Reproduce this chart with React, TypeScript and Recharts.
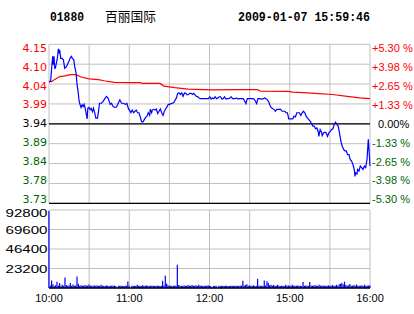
import { ComposedChart, BarChart, Line, Bar, XAxis, YAxis, CartesianGrid, ReferenceLine } from "recharts";

// previous close, the centre of the price scale
const prevClose = 3.94;

const priceTicks = [4.1488, 4.0966, 4.0444, 3.9922, 3.94, 3.8878, 3.8356, 3.7834, 3.7312];
const pctLabels = ["+5.30 %", "+3.98 %", "+2.65 %", "+1.33 %", "0.00%", "-1.33 %", "-2.65 %", "-3.98 %", "-5.30 %"];

// minutes since 10:00 (lunch break removed)
const timeTicks = [0, 30, 60, 90, 120, 150, 180, 210, 240];
const timeLabels: Record<number, string> = { 0: "10:00", 60: "11:00", 120: "12:00", 180: "15:00", 240: "16:00" };

const volTicks = [0, 23200, 46400, 69600, 92800];

// [minute, price]
const priceLine: [number, number][] = [
  [0, 4.05], [1.25, 4.053], [2, 4.086], [2.75, 4.117], [3.25, 4.095], [3.75, 4.117], [4.25, 4.086], [4.75, 4.086],
  [6.25, 4.112], [7, 4.137], [7.5, 4.125], [8, 4.134], [8.75, 4.112], [9.75, 4.112], [10.75, 4.108], [11.75, 4.086],
  [13, 4.09], [13.75, 4.096], [15, 4.105], [16, 4.114], [16.75, 4.117], [17.5, 4.112], [18.5, 4.108], [19.25, 4.09],
  [20.25, 4.073], [21, 4.042], [21.75, 4.025], [22.5, 4.0], [23.25, 3.99], [24, 3.983], [24.75, 3.99], [25.5, 3.985],
  [26.25, 3.991], [27, 3.981], [27.75, 3.968], [28.5, 3.953], [29, 3.981], [29.75, 3.983], [30.75, 3.977], [31.5, 3.981],
  [32.5, 3.972], [33.25, 3.981], [34.25, 3.968], [35, 3.955], [36.25, 3.955], [37, 3.972], [37.75, 3.994], [39.25, 3.994],
  [40.5, 3.999], [41.75, 4.006], [43, 4.012], [44.25, 4.007], [45, 3.999], [45.75, 3.991], [46.75, 3.994], [48, 3.985],
  [49.25, 3.983], [50.5, 3.984], [51.75, 3.994], [53, 4.003], [54.25, 3.994], [55.5, 3.994], [57.25, 3.991], [58.25, 3.994],
  [59.25, 3.981], [60.5, 3.974], [61.25, 3.969], [62.25, 3.976], [63.25, 3.969], [64.25, 3.973], [65.25, 3.976], [66.25, 3.969],
  [67.25, 3.969], [68.25, 3.958], [69.25, 3.945], [70.25, 3.945], [71.25, 3.951], [72.25, 3.957], [73.25, 3.96], [74.25, 3.969],
  [75.25, 3.962], [75.75, 3.978], [76.75, 3.969], [77.25, 3.976], [78.25, 3.978], [79.25, 3.976], [80.25, 3.979], [81.25, 3.967],
  [82.25, 3.973], [83.25, 3.979], [84.25, 3.969], [85.25, 3.962], [86.25, 3.973], [87.25, 3.979], [88.25, 3.985], [89.25, 3.991],
  [90.25, 3.991], [91.25, 3.993], [93.25, 3.995], [94.25, 4.002], [95.25, 4.008], [96.25, 4.02], [97.25, 4.021], [98.25, 4.017],
  [99.25, 4.021], [100.25, 4.012], [101.25, 4.021], [102.25, 4.02], [103.25, 4.016], [104.25, 4.017], [105.25, 4.02], [106.25, 4.02],
  [107.25, 4.017], [108.25, 4.02], [109.25, 4.016], [110.25, 4.012], [111.25, 4.011], [112.25, 4.008], [113.25, 4.006], [115, 4.006],
  [117.25, 4.006], [119.25, 4.006], [120.25, 4.011], [121.25, 4.005], [122.25, 4.008], [123.25, 4.006], [124.25, 4.011], [125.25, 4.006],
  [126.25, 4.008], [127.25, 4.011], [128.25, 4.011], [129.25, 4.005], [130.25, 4.006], [131.25, 4.011], [132.25, 4.005], [133.25, 4.006],
  [134.25, 4.006], [135.25, 4.008], [136.25, 4.011], [137.25, 4.006], [139.25, 4.006], [140.25, 4.008], [141.25, 4.005], [142.25, 4.006],
  [144.25, 4.006], [145.25, 4.006], [146.25, 4.0], [147.25, 3.993], [148.25, 4.006], [150.25, 4.006], [152.25, 4.006], [153.25, 4.005],
  [154.25, 4.0], [155.25, 3.993], [156.25, 4.006], [157.25, 4.006], [159.25, 4.005], [160.25, 4.006], [161.25, 4.008], [162.25, 4.006],
  [163.25, 4.003], [164.25, 3.998], [165.25, 3.988], [166.25, 3.982], [168.25, 3.978], [169.25, 3.973], [170.25, 3.978], [173.25, 3.978],
  [174.25, 3.973], [176.25, 3.973], [177.25, 3.969], [178.25, 3.969], [179.25, 3.953], [182.25, 3.953], [183.25, 3.96], [184.25, 3.958],
  [185.25, 3.969], [187.25, 3.969], [188.25, 3.962], [189.25, 3.969], [190.25, 3.973], [191.25, 3.969], [192.25, 3.96], [193.25, 3.955],
  [194.25, 3.951], [195.25, 3.947], [196.25, 3.941], [197.25, 3.934], [198.25, 3.934], [199.25, 3.927], [200.25, 3.929], [201.25, 3.92],
  [201.75, 3.907], [202.75, 3.925], [203.75, 3.918], [204.25, 3.909], [205.25, 3.916], [206.25, 3.918], [207.25, 3.916], [208.25, 3.907],
  [209.25, 3.916], [210.25, 3.92], [211.25, 3.925], [212.25, 3.927], [213.25, 3.938], [214.25, 3.944], [215.25, 3.938], [216.25, 3.934],
  [217.25, 3.915], [218.25, 3.894], [219.25, 3.881], [220.25, 3.873], [221.25, 3.869], [222.25, 3.869], [223.25, 3.859], [224.25, 3.859],
  [225.25, 3.846], [226.25, 3.842], [227.25, 3.833], [228.25, 3.82], [228.75, 3.802], [229.25, 3.811], [230.25, 3.808], [230.75, 3.82],
  [231.75, 3.816], [232.75, 3.829], [233.75, 3.825], [234.75, 3.82], [235.75, 3.829], [236.75, 3.825], [237.75, 3.846], [238.75, 3.899],
  [239.25, 3.873], [240, 3.829],
];

// [minute, average price]
const avgLine: [number, number][] = [
  [0, 4.051], [2, 4.051], [4, 4.056], [8, 4.064], [12, 4.066], [16, 4.069], [20, 4.069], [24, 4.063], [30, 4.058],
  [37, 4.056], [41, 4.053], [49, 4.049], [62, 4.048], [68, 4.048], [70, 4.046], [83, 4.046], [86, 4.039], [94, 4.035],
  [104, 4.031], [121, 4.029], [140, 4.03], [156, 4.03], [158, 4.026], [179, 4.025], [182, 4.023], [190, 4.022],
  [199, 4.02], [212, 4.017], [223, 4.012], [232, 4.008], [240, 4.006],
];

// volume per minute, 10:00 .. 16:00
const volumes = [
  91500,
  3000, 9000, 4500, 2500, 3200, 7500, 3000, 6000, 2600, 4000, 2800, 12500, 3500, 2600, 3000, 6000, 2800, 4200, 2700, 3000,
  13800, 5000, 2600, 3200, 2800, 2700, 3500, 2600, 2900, 4200, 2700, 2600, 2800, 3000, 2600, 3300, 2600, 2800, 3800, 2600,
  2700, 2500, 3000, 2600, 2400, 2500, 3000, 2600, 2800, 2500, 0, 2600, 2700, 2600, 2400, 2500, 2600, 2800, 7800, 2600,
  0, 2600, 2500, 2700, 2400, 3800, 2600, 2800, 2500, 3200, 2600, 2700, 3000, 2600, 2500, 2700, 2600, 2800, 2500, 2600,
  2700, 2600, 2500, 2800, 8700, 3000, 14600, 5500, 3200, 2600, 2800, 2500, 2700, 2600, 2800, 27600, 3500, 2600, 2800, 2500,
  3000, 2700, 2600, 3600, 2800, 2600, 3500, 2700, 2600, 3200, 2500, 3800, 2600, 2800, 2500, 2700, 2600, 2800, 3200, 2600,
  2500, 0, 2600, 2500, 2700, 0, 2600, 2500, 2600, 2800, 2500, 2700, 2600, 2500, 2400, 2700, 2600, 2500, 2700, 2600,
  2500, 2600, 2700, 3000, 8700, 3000, 3500, 4400, 2800, 3000, 2600, 2800, 3200, 2500, 2700, 11000, 2600, 2800, 2500, 2700,
  9000, 3000, 8000, 6000, 3200, 4000, 2700, 3500, 2600, 2800, 4000, 2600, 2500, 2800, 2600, 2500, 4000, 2600, 3000, 2700,
  2600, 4000, 2800, 2600, 2700, 3000, 2600, 2800, 2500, 7000, 2600, 3000, 2700, 2600, 7000, 3000, 2800, 2600, 3500, 2600,
  2700, 4000, 2800, 2600, 3000, 2700, 2600, 2800, 3000, 2700, 2600, 3500, 2700, 2600, 3800, 2700, 4500, 5000, 6000, 4200,
  7500, 3500, 2800, 3200, 4800, 2600, 2700, 3500, 2600, 4000, 2800, 2600, 2700, 3200, 2500, 3800, 2600, 2800, 3000, 3000,
];

const RED = "#ff0000";
const GREEN = "#006600";
const BLUE = "#0000ff";
const GRID = "#c0c0c0";

const tone = (v: number) => (Math.abs(v - prevClose) < 1e-6 ? "#000" : v > prevClose ? RED : GREEN);

// left price label + right percent label for the same grid line
function PriceTick({ y, payload }: any) {
  const v = payload.value as number;
  const ly = 124.3 + (y - 124.3) * 0.95;
  const label = pctLabels[priceTicks.indexOf(v)];
  const zero = label === "0.00%";
  return (
    <g>
      <text x={47} y={ly} textAnchor="end" dominantBaseline="central" fontFamily="DejaVu Sans" fontSize={11} fill={tone(v)}>
        {v.toFixed(2)}
      </text>
      <text x={zero ? 378 : 372} y={ly} dominantBaseline="central" fontFamily="Liberation Sans" fontSize={11} fill={tone(v)}>
        {label}
      </text>
    </g>
  );
}

function VolTick({ y, payload }: any) {
  const v = payload.value as number;
  if (v === 0) return null;
  const ly = v === 92800 ? y + 3.3 : y + 0.7;
  return (
    <text x={47.5} y={ly} textAnchor="end" dominantBaseline="central" fontFamily="Liberation Sans" fontSize={10} fill="#000" textLength={42} lengthAdjust="spacingAndGlyphs">
      {String(v)}
    </text>
  );
}

function TimeTick({ x, payload }: any) {
  const label = timeLabels[payload.value as number];
  if (!label) return null;
  return (
    <text x={x} y={302} textAnchor="middle" fontFamily="Liberation Sans" fontSize={11} fill="#000">
      {label}
    </text>
  );
}

export default function App() {
  const prices = priceLine.map(([m, p]) => ({ m, p }));
  const avgs = avgLine.map(([m, p]) => ({ m, p }));
  const vol = volumes.map((v, m) => ({ m, v }));

  return (
    <div style={{ position: "absolute", left: 0, top: 0, width: 414, height: 314, background: "#fff", overflow: "hidden" }}>
      <svg width={414} height={30} style={{ position: "absolute", left: 0, top: 0 }}>
        <text x={50} y={21} fontFamily="Liberation Mono" fontWeight="bold" fontSize={12} textLength={34} lengthAdjust="spacingAndGlyphs">
          01880
        </text>
        <text x={105} y={21} fontFamily="Noto Sans CJK SC" fontSize={13} textLength={51} lengthAdjust="spacingAndGlyphs">
          百丽国际
        </text>
        <text x={238} y={21} fontFamily="Liberation Mono" fontWeight="bold" fontSize={12} textLength={132} lengthAdjust="spacingAndGlyphs">
          2009-01-07 15:59:46
        </text>
      </svg>

      <div style={{ position: "absolute", left: 0, top: 0 }}>
        <ComposedChart width={414} height={314} margin={{ top: 44.3, right: 44, bottom: 110.7, left: 0 }}>
          <CartesianGrid stroke={GRID} strokeWidth={1} />
          <XAxis type="number" dataKey="m" domain={[0, 240]} ticks={timeTicks} hide />
          <YAxis
            type="number"
            domain={[priceTicks[8], priceTicks[0]]}
            ticks={priceTicks}
            interval={0}
            width={49}
            axisLine={false}
            tickLine={false}
            tick={<PriceTick />}
          />
          <ReferenceLine y={prevClose} stroke="#000" strokeWidth={1.3} />
          <ReferenceLine y={priceTicks[8]} stroke="#000" strokeWidth={1.3} />
          <Line data={avgs} dataKey="p" stroke={RED} strokeWidth={1.2} dot={false} isAnimationActive={false} />
          <Line data={prices} dataKey="p" stroke={BLUE} strokeWidth={1.2} dot={false} isAnimationActive={false} />
        </ComposedChart>
      </div>

      <div style={{ position: "absolute", left: 0, top: 0 }}>
        <BarChart width={414} height={314} data={vol} margin={{ top: 210, right: 44, bottom: 0, left: 0 }}>
          <CartesianGrid stroke={GRID} strokeWidth={1} />
          <XAxis
            type="number"
            dataKey="m"
            domain={[0, 240]}
            ticks={timeTicks}
            interval={0}
            height={26}
            axisLine={false}
            tickLine={false}
            tick={<TimeTick />}
          />
          <YAxis
            type="number"
            domain={[0, 92800]}
            ticks={volTicks}
            interval={0}
            width={49}
            axisLine={false}
            tickLine={false}
            tick={<VolTick />}
          />
          <Bar dataKey="v" fill={BLUE} barSize={2} isAnimationActive={false} />
          <ReferenceLine y={0} stroke="#000" strokeWidth={1.3} />
        </BarChart>
      </div>
    </div>
  );
}
